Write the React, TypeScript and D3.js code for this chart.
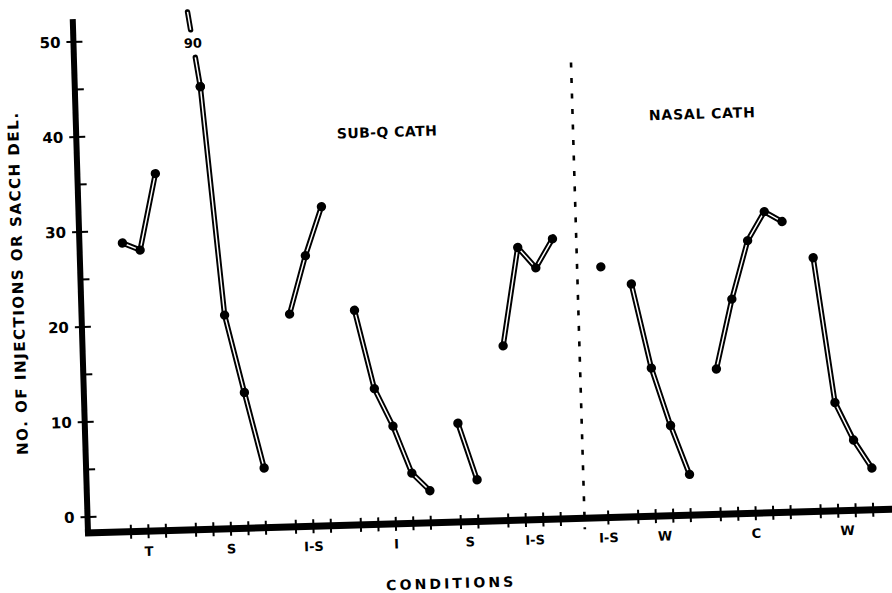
import * as d3 from 'd3';
import React from 'react';

// values, one array per condition block
const groupLabels = ['T', 'S', 'I-S', 'I', 'S', 'I-S', 'I-S', 'W', 'C', 'W'];
const tValues = [28.7, 27.9, 35.9];
const sValues = [90, 44.9, 20.8, 12.6, 4.6];
const isValues = [20.7, 26.8, 31.9];
const iValues = [20.9, 12.6, 8.6, 3.6, 1.7];
const s2Values = [8.7, 2.7];
const is2Values = [16.7, 27.0, 24.8, 27.8];
const nasalIsValues = [24.7];
const wValues = [22.8, 13.9, 7.8, 2.6];
const cValues = [13.6, 20.9, 27.0, 30.0, 28.9];
const w2Values = [25.0, 9.7, 5.7, 2.7];
const groupValues = [tValues, sValues, isValues, iValues, s2Values, is2Values, nasalIsValues, wValues, cValues, w2Values];
const panelOf = [0, 0, 0, 0, 0, 0, 1, 1, 1, 1];
const panelTitles = ['SUB-Q CATH', 'NASAL CATH'];
const yTicks = [0, 10, 20, 30, 40, 50];
const yMinor = [5, 15, 25, 35, 45];

const FONT = '"DejaVu Sans", sans-serif';
const GAP = 1.714;       // extra spacing between condition blocks, in slots
const PANEL_GAP = 2.714; // spacing across the catheter divider

// lay every observation on a running slot index
const slots: { g: number; i: number; u: number }[] = [];
let u = 0;
groupValues.forEach((vals, g) => {
  if (g > 0) u += panelOf[g] !== panelOf[g - 1] ? PANEL_GAP : GAP;
  vals.forEach((_, i) => {
    if (i > 0) u += 1;
    slots.push({ g, i, u });
  });
});
const lastU = u;

const x = d3.scaleLinear().domain([0, lastU]).range([43, 785.5]);
const y = d3.scaleLinear().domain([0, 50]).range([-16, -491.3]);

const slotU = (g: number, i: number) => slots.find(s => s.g === g && s.i === i)!.u;

function DoubleLine({ pts }: { pts: [number, number][] }) {
  const d = d3.line()(pts) || '';
  return (
    <g fill="none" strokeLinejoin="round" strokeLinecap="round">
      <path d={d} stroke="#000" strokeWidth={5.4} />
      <path d={d} stroke="#fff" strokeWidth={1.5} strokeLinecap="butt" />
    </g>
  );
}

export default function App() {
  const lastSub = slots.filter(s => panelOf[s.g] === 0).pop()!.u;
  const firstNasal = slots.find(s => panelOf[s.g] === 1)!.u;
  const divider = x((lastSub + firstNasal) / 2);

  // the 90 in block S is off scale: its line runs up to a break
  const breakTop = 58;
  const s1x = x(slotU(1, 0));
  const s2x = x(slotU(1, 1));
  const alongBreak = (v: number): [number, number] => {
    const t = (v - sValues[1]) / (breakTop - sValues[1]);
    return [s2x + (s1x - s2x) * t, y(v)];
  };

  return (
    <svg width={892} height={593} style={{ position: 'absolute', left: 0, top: 0, background: '#fff' }}
      fontFamily={FONT} fontWeight="bold">
      <g transform="translate(88,533) rotate(-1.7)">
        {/* y axis */}
        <line x1={0} y1={2} x2={0} y2={y(52.4)} stroke="#000" strokeWidth={6} />
        {yTicks.map(t => (
          <g key={t}>
            <line x1={-7} x2={9} y1={y(t)} y2={y(t)} stroke="#000" strokeWidth={2} />
            <text x={-13} y={y(t)} dy="0.36em" textAnchor="end" fontSize={15}>{t}</text>
          </g>
        ))}
        {yMinor.map(t => (
          <line key={t} x1={0} x2={9} y1={y(t)} y2={y(t)} stroke="#000" strokeWidth={2} />
        ))}
        <text transform={`translate(-63,-251) rotate(-90)`} textAnchor="middle" dy="0.36em"
          fontSize={15} textLength={342} lengthAdjust="spacing">NO. OF INJECTIONS OR SACCH DEL.</text>

        {/* x axis */}
        <line x1={-3} y1={0} x2={840} y2={0} stroke="#000" strokeWidth={7} />
        {slots.map((s, k) => (
          <line key={k} x1={x(s.u)} x2={x(s.u)} y1={-7} y2={7} stroke="#000" strokeWidth={2} />
        ))}
        {groupLabels.map((lab, g) => {
          const us = slots.filter(s => s.g === g).map(s => s.u);
          const cx = x((us[0] + us[us.length - 1]) / 2);
          return <text key={g} x={cx} y={20} dy="0.36em" textAnchor="middle" fontSize={13}>{lab}</text>;
        })}
        <text x={360} y={61} dy="0.36em" textAnchor="middle" fontSize={14}
          textLength={127} lengthAdjust="spacing">CONDITIONS</text>

        {/* catheter divider */}
        <line x1={divider} x2={divider} y1={-456} y2={11} stroke="#000" strokeWidth={2.6} strokeDasharray="5 10.5" />
        <text x={310.5} y={-392} dy="0.36em" textAnchor="middle" fontSize={14}
          textLength={100} lengthAdjust="spacing">{panelTitles[0]}</text>
        <text x={626} y={-401} dy="0.36em" textAnchor="middle" fontSize={14}
          textLength={106} lengthAdjust="spacing">{panelTitles[1]}</text>

        {/* data */}
        {groupValues.map((vals, g) => {
          const pts: [number, number][] = vals
            .map((v, i) => [x(slotU(g, i)), y(v)] as [number, number])
            .filter((_, i) => !(g === 1 && i === 0));
          return (
            <g key={g}>
              {pts.length > 1 && <DoubleLine pts={pts} />}
              {pts.map((p, i) => <circle key={i} cx={p[0]} cy={p[1]} r={4.7} fill="#000" />)}
            </g>
          );
        })}
        <DoubleLine pts={[alongBreak(sValues[1]), alongBreak(48.0)]} />
        <DoubleLine pts={[alongBreak(50.9), alongBreak(52.8)]} />
        <circle cx={s2x} cy={y(sValues[1])} r={4.7} fill="#000" />
        <text x={alongBreak(49.5)[0]} y={y(49.5)} dy="0.36em" textAnchor="middle" fontSize={13}>{sValues[0]}</text>
      </g>
    </svg>
  );
}
